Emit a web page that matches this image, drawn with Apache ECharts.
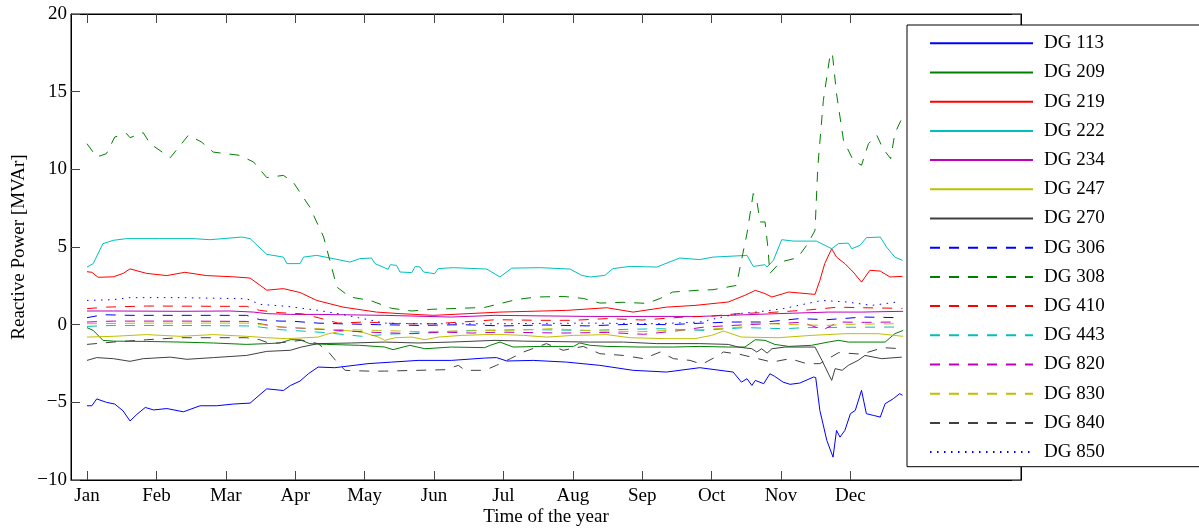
<!DOCTYPE html>
<html>
<head>
<meta charset="utf-8">
<script src="https://cdn.jsdelivr.net/npm/echarts@6/dist/echarts.min.js"></script>
<style>html,body{margin:0;padding:0;background:#fff;}#c{width:1199px;height:530px;}</style>
</head>
<body>
<div id="c"></div>
<script>
// x = month index (0 = Jan), y = reactive power [MVAr]
var months = ['Jan','Feb','Mar','Apr','May','Jun','Jul','Aug','Sep','Oct','Nov','Dec'];
var monthTicks = [0,1,2,3,4,5,6,7,8,9,10,11];
var seriesNames = ['DG 113','DG 209','DG 219','DG 222','DG 234','DG 247','DG 270','DG 306','DG 308','DG 410','DG 443','DG 820','DG 830','DG 840','DG 850'];

var dg113 = [[0,-5.22],[0.07,-5.22],[0.14,-4.78],[0.28,-5.0],[0.40,-5.11],[0.52,-5.55],[0.62,-6.20],[0.72,-5.77],[0.84,-5.33],[0.96,-5.49],[1.15,-5.40],[1.39,-5.61],[1.63,-5.22],[1.87,-5.22],[2.11,-5.11],[2.35,-5.05],[2.59,-4.13],[2.83,-4.24],[2.93,-3.92],[3.07,-3.63],[3.19,-3.16],[3.33,-2.73],[3.57,-2.77],[4.05,-2.51],[4.39,-2.41],[4.77,-2.30],[5.25,-2.30],[5.73,-2.15],[5.90,-2.12],[6.05,-2.34],[6.43,-2.30],[6.91,-2.41],[7.39,-2.62],[7.87,-2.94],[8.35,-3.05],[8.83,-2.77],[9.31,-3.05],[9.43,-3.70],[9.51,-3.48],[9.58,-3.91],[9.63,-3.59],[9.75,-3.80],[9.84,-3.16],[9.91,-3.33],[10.03,-3.70],[10.13,-3.84],[10.27,-3.76],[10.47,-3.37],[10.50,-3.41],[10.56,-5.52],[10.66,-7.45],[10.75,-8.53],[10.80,-6.81],[10.85,-7.24],[10.92,-6.81],[11.0,-5.73],[11.07,-5.52],[11.16,-4.23],[11.23,-5.73],[11.33,-5.84],[11.43,-5.95],[11.50,-5.09],[11.62,-4.76],[11.71,-4.44],[11.75,-4.55]];
var dg209 = [[0,-0.19],[0.09,-0.37],[0.23,-1.01],[0.38,-1.06],[0.86,-1.08],[1.34,-1.12],[1.82,-1.18],[2.30,-1.27],[2.59,-1.22],[2.78,-1.18],[2.93,-0.97],[3.07,-0.97],[3.21,-1.22],[3.45,-1.27],[3.93,-1.33],[4.29,-1.44],[4.41,-1.61],[4.65,-1.33],[4.87,-1.55],[5.25,-1.44],[5.73,-1.48],[5.81,-1.33],[5.95,-1.12],[6.14,-1.44],[6.53,-1.40],[7.01,-1.40],[7.10,-1.18],[7.25,-1.33],[7.49,-1.40],[7.97,-1.44],[8.45,-1.44],[8.83,-1.40],[9.24,-1.44],[9.48,-1.44],[9.63,-0.97],[9.77,-1.01],[9.91,-1.27],[10.11,-1.40],[10.44,-1.33],[10.68,-1.12],[10.83,-1.01],[10.97,-1.12],[11.31,-1.12],[11.50,-1.12],[11.64,-0.58],[11.76,-0.37]];
var dg219 = [[0,3.41],[0.07,3.37],[0.16,3.05],[0.38,3.08],[0.52,3.30],[0.62,3.59],[0.86,3.30],[1.15,3.16],[1.41,3.37],[1.72,3.16],[2.11,3.08],[2.35,3.00],[2.59,2.22],[2.83,2.32],[3.07,2.07],[3.31,1.56],[3.69,1.13],[4.17,0.81],[4.51,0.71],[4.99,0.60],[5.95,0.81],[6.91,0.92],[7.49,1.09],[7.87,0.81],[8.35,1.13],[8.76,1.24],[9.24,1.46],[9.48,1.89],[9.63,2.21],[9.77,2.00],[9.87,1.78],[10.11,2.10],[10.49,1.95],[10.56,2.85],[10.63,3.93],[10.73,4.89],[10.80,4.35],[10.92,3.93],[11.04,3.39],[11.16,2.74],[11.28,3.50],[11.43,3.45],[11.57,3.07],[11.75,3.11]];
var dg222 = [[0,3.71],[0.09,3.93],[0.23,5.22],[0.38,5.43],[0.57,5.54],[1.05,5.54],[1.53,5.54],[1.77,5.47],[2.23,5.64],[2.35,5.54],[2.59,4.53],[2.83,4.35],[2.88,3.93],[3.07,3.93],[3.12,4.35],[3.31,4.46],[3.55,4.25],[3.79,4.03],[3.93,4.25],[4.10,4.29],[4.15,3.93],[4.34,3.56],[4.37,3.86],[4.46,3.82],[4.51,3.39],[4.68,3.35],[4.73,3.75],[4.80,3.71],[4.85,3.39],[5.01,3.28],[5.06,3.61],[5.28,3.67],[5.76,3.58],[5.95,3.07],[6.12,3.64],[6.53,3.67],[6.96,3.58],[7.13,3.17],[7.25,3.07],[7.46,3.17],[7.58,3.61],[7.82,3.75],[8.21,3.71],[8.54,4.29],[8.83,4.19],[9.02,4.35],[9.51,4.46],[9.60,3.75],[9.77,3.86],[9.80,3.71],[9.89,4.14],[10.01,5.47],[10.18,5.38],[10.51,5.38],[10.73,4.89],[10.83,5.22],[10.97,5.25],[11.02,4.89],[11.14,5.11],[11.23,5.60],[11.43,5.64],[11.52,5.00],[11.64,4.35],[11.75,4.14]];
var dg234 = [[0,0.88],[0.38,0.88],[1.34,0.86],[2.06,0.88],[2.40,0.81],[2.59,0.71],[2.93,0.66],[3.33,0.66],[4.29,0.60],[5.25,0.49],[5.88,0.60],[7.25,0.53],[8.83,0.53],[9.24,0.60],[9.96,0.71],[10.68,0.81],[11.16,0.81],[11.76,0.86]];
var dg247 = [[0,-0.80],[0.38,-0.75],[0.86,-0.64],[1.34,-0.75],[1.82,-0.64],[2.30,-0.75],[2.59,-0.84],[2.88,-0.90],[3.33,-0.80],[3.48,-0.58],[3.72,-0.37],[3.96,-0.48],[4.20,-0.80],[4.29,-1.01],[4.44,-0.84],[4.68,-0.80],[4.87,-0.97],[5.06,-0.80],[5.40,-0.69],[5.88,-0.62],[6.29,-0.69],[6.62,-0.80],[7.01,-0.69],[7.49,-0.64],[7.82,-0.84],[8.35,-0.90],[8.76,-0.90],[9.0,-0.69],[9.17,-0.41],[9.43,-0.80],[9.96,-0.84],[10.44,-0.69],[10.92,-0.58],[11.40,-0.58],[11.76,-0.75]];
var dg270 = [[0,-2.30],[0.14,-2.12],[0.38,-2.19],[0.62,-2.36],[0.81,-2.19],[1.20,-2.09],[1.44,-2.23],[1.82,-2.12],[2.30,-1.98],[2.59,-1.72],[2.93,-1.65],[3.09,-1.44],[3.33,-1.22],[3.81,-1.18],[4.29,-1.12],[4.77,-1.18],[5.25,-1.12],[5.88,-1.01],[6.29,-1.06],[7.25,-1.12],[7.73,-1.12],[8.21,-1.22],[8.83,-1.22],[9.24,-1.27],[9.38,-1.44],[9.58,-1.55],[9.65,-1.76],[9.72,-1.55],[9.80,-1.83],[9.87,-1.55],[10.06,-1.44],[10.49,-1.44],[10.59,-2.30],[10.73,-3.59],[10.78,-2.83],[10.88,-2.94],[10.97,-2.62],[11.11,-2.30],[11.21,-1.98],[11.45,-2.19],[11.74,-2.09]];
var dg306 = [[0,0.45],[0.23,0.64],[0.62,0.60],[1.34,0.60],[2.30,0.60],[2.49,0.32],[2.78,0.23],[2.93,0.23],[3.33,0.10],[3.62,0.06],[4.2,0.0],[4.8,-0.05],[5.4,0.0],[6.0,-0.08],[6.6,-0.02],[7.2,-0.08],[7.8,0.02],[8.4,0.0],[8.86,0.10],[9.31,0.17],[9.77,0.17],[10.27,0.39],[10.66,0.32],[11.19,0.49],[11.71,0.45]];
var dg308 = [[0,11.65],[0.14,10.79],[0.28,11.01],[0.40,12.08],[0.57,12.30],[0.62,12.04],[0.81,12.36],[0.91,11.65],[1.20,10.75],[1.46,12.19],[1.65,11.76],[1.82,11.11],[2.20,10.90],[2.40,10.47],[2.59,9.47],[2.83,9.61],[2.97,9.18],[3.21,7.57],[3.41,5.64],[3.60,2.42],[3.79,1.78],[4.08,1.56],[4.39,1.05],[4.68,0.88],[4.97,0.99],[5.35,1.05],[5.73,1.11],[6.20,1.63],[6.48,1.78],[6.86,1.82],[7.15,1.69],[7.39,1.39],[7.72,1.44],[8.07,1.37],[8.26,1.69],[8.44,2.10],[8.79,2.21],[9.02,2.25],[9.36,2.53],[9.41,3.71],[9.51,5.88],[9.60,8.44],[9.65,8.00],[9.70,6.61],[9.77,6.61],[9.81,5.00],[9.84,3.30],[9.99,4.03],[10.24,4.31],[10.39,5.24],[10.49,6.07],[10.53,10.15],[10.61,14.44],[10.71,17.45],[10.74,17.45],[10.80,14.87],[10.90,11.87],[11.04,10.58],[11.16,10.26],[11.26,11.65],[11.38,12.19],[11.47,11.33],[11.58,10.69],[11.64,12.30],[11.75,13.37]];
var dg410 = [[0,1.03],[0.28,1.13],[0.86,1.20],[2.06,1.18],[2.30,1.18],[2.49,0.92],[2.78,0.77],[3.10,0.70],[3.33,0.45],[3.62,0.10],[4.0,0.17],[4.5,0.06],[5.0,0.06],[5.4,0.17],[5.9,0.32],[6.5,0.28],[7.0,0.28],[7.5,0.39],[8.0,0.30],[8.6,0.49],[9.0,0.55],[9.38,0.71],[9.9,0.80],[10.4,0.95],[10.83,1.13],[11.16,1.09],[11.75,1.05]];
var dg443 = [[0,-0.11],[0.38,-0.05],[1.34,-0.05],[2.30,-0.08],[2.49,-0.15],[2.78,-0.32],[3.4,-0.50],[3.96,-0.75],[4.4,-0.60],[4.77,-0.54],[5.54,-0.37],[6.4,-0.32],[7.19,-0.37],[7.8,-0.30],[8.26,-0.26],[8.86,-0.37],[9.48,-0.19],[10.06,-0.26],[10.35,-0.19],[10.92,-0.17],[11.75,-0.15]];
var dg820 = [[0,0.17],[0.38,0.23],[1.34,0.23],[2.30,0.21],[2.49,0.06],[2.78,-0.15],[3.62,-0.37],[4.05,-0.48],[4.68,-0.58],[5.12,-0.48],[5.55,-0.54],[5.95,-0.48],[6.86,-0.54],[7.5,-0.50],[8.02,-0.62],[8.5,-0.40],[8.9,-0.15],[9.5,0.0],[10.06,0.10],[10.3,0.15],[10.61,-0.32],[10.83,0.17],[11.2,0.15],[11.64,0.17]];
var dg830 = [[0,0.06],[0.86,0.10],[2.30,0.10],[2.49,0.02],[2.78,-0.15],[3.5,-0.30],[4.2,-0.37],[4.8,-0.45],[5.5,-0.40],[6.2,-0.35],[6.7,-0.26],[7.3,-0.40],[8.0,-0.45],[8.5,-0.35],[8.86,-0.32],[9.43,-0.15],[9.6,0.10],[10.2,0.0],[10.66,-0.05],[10.95,0.02],[11.67,0.06]];
var dg840 = [[0,-1.27],[0.38,-1.12],[0.86,-0.97],[1.34,-0.84],[1.96,-0.84],[2.30,-0.84],[2.49,-0.97],[2.64,-1.22],[2.88,-1.12],[3.1,-1.0],[3.33,-1.22],[3.48,-1.76],[3.62,-2.5],[3.72,-2.94],[4.05,-2.99],[4.29,-2.99],[4.77,-2.94],[5.16,-2.90],[5.35,-2.62],[5.45,-2.94],[5.73,-2.94],[5.90,-2.62],[6.10,-2.19],[6.29,-1.76],[6.62,-1.22],[6.86,-1.65],[7.15,-1.40],[7.39,-1.87],[7.73,-1.98],[8.02,-2.19],[8.26,-1.76],[8.45,-2.19],[8.69,-2.30],[8.86,-2.55],[9.10,-1.98],[9.17,-1.76],[9.4,-1.90],[9.87,-2.41],[10.13,-2.19],[10.37,-2.51],[10.56,-2.51],[10.83,-1.80],[11.16,-1.90],[11.47,-1.48],[11.74,-1.55]];
var dg850 = [[0,1.56],[0.37,1.61],[0.62,1.74],[1.34,1.74],[2.30,1.67],[2.49,1.31],[2.88,1.18],[3.33,0.92],[3.62,0.71],[3.91,0.45],[4.29,0.10],[4.77,0.06],[5.88,0.06],[7.25,0.10],[8.21,0.06],[8.83,0.17],[9.38,0.71],[9.65,0.81],[10.03,1.03],[10.59,1.56],[10.95,1.46],[11.31,1.24],[11.67,1.46]];

var seriesData = [dg113,dg209,dg219,dg222,dg234,dg247,dg270,dg306,dg308,dg410,dg443,dg820,dg830,dg840,dg850];
var colors = ['#0000ff','#008000','#ff0000','#00bfbf','#bf00bf','#bfbf00','#404040','#0000ff','#008000','#ff0000','#00bfbf','#bf00bf','#bfbf00','#404040','#0000ff'];
var dash = [10, 9], dot = [1.5, 5.5];
var styles = ['solid','solid','solid','solid','solid','solid','solid',dash,dash,dash,dash,dash,dash,dash,dot];

var FONT = 'Liberation Serif';
var chart = echarts.init(document.getElementById('c'), null, {renderer:'canvas'});
var series = seriesNames.map(function(n, i){
  return {name:n, type:'line', data:seriesData[i], symbol:'none', showSymbol:false,
    lineStyle:{color:colors[i], width:1, type:styles[i]}, itemStyle:{color:colors[i]},
    emphasis:{disabled:true}, silent:true, animation:false};
});
var xMin = -0.2305, xMax = 13.458;
function fmtY(v){ return v < 0 ? '\u2212' + Math.abs(v) : String(v); }
var tickStyle = {color:'#444', width:1};
chart.setOption({
  animation:false,
  backgroundColor:'#fff',
  grid:{left:71, top:14, right:178, bottom:50, show:true, borderColor:'#000', borderWidth:1,
    backgroundColor:'transparent', containLabel:false, outerBoundsMode:'none'},
  xAxis:[{
    type:'value', min:xMin, max:xMax, position:'bottom',
    name:'Time of the year', nameLocation:'middle', nameGap:28, nameMoveOverlap:false,
    nameTextStyle:{fontFamily:FONT, fontSize:19, color:'#000'},
    axisLine:{show:true, onZero:false, lineStyle:{color:'#000', width:1}},
    axisTick:{show:true, inside:true, length:9, customValues:monthTicks, lineStyle:tickStyle},
    axisLabel:{show:true, customValues:monthTicks, margin:7, fontFamily:FONT, fontSize:19, color:'#000',
      formatter:function(v){ return months[Math.round(v)]; }},
    splitLine:{show:false}
  },{
    type:'value', min:xMin, max:xMax, position:'top',
    axisLine:{show:true, onZero:false, lineStyle:{color:'#000', width:1}},
    axisTick:{show:true, inside:true, length:9, customValues:monthTicks, lineStyle:tickStyle},
    axisLabel:{show:false}, splitLine:{show:false}
  }],
  yAxis:[{
    type:'value', min:-10, max:20, interval:5, position:'left',
    name:'Reactive Power [MVAr]', nameLocation:'middle', nameGap:42, nameRotate:90, nameMoveOverlap:false,
    nameTextStyle:{fontFamily:FONT, fontSize:19, color:'#000'},
    axisLine:{show:true, onZero:false, lineStyle:{color:'#000', width:1}},
    axisTick:{show:true, inside:true, length:9, lineStyle:tickStyle},
    axisLabel:{margin:4, fontFamily:FONT, fontSize:19, color:'#000', formatter:fmtY},
    splitLine:{show:false}
  },{
    type:'value', min:-10, max:20, interval:5, position:'right',
    axisLine:{show:true, onZero:false, lineStyle:{color:'#000', width:1}},
    axisTick:{show:true, inside:true, length:9, lineStyle:tickStyle},
    axisLabel:{show:false}, splitLine:{show:false}
  }],
  legend:{
    orient:'vertical', left:907, top:25, itemWidth:103, itemHeight:20, itemGap:9.2,
    padding:[8.3, 150, 4.6, 22], backgroundColor:'#fff', borderColor:'#000', borderWidth:1, borderRadius:0,
    itemStyle:{opacity:0},
    textStyle:{fontFamily:FONT, fontSize:19, color:'#000', lineHeight:20, padding:[0,0,0,6]},
    data:seriesNames, selectedMode:false
  },
  series:series
});
</script>
</body>
</html>
